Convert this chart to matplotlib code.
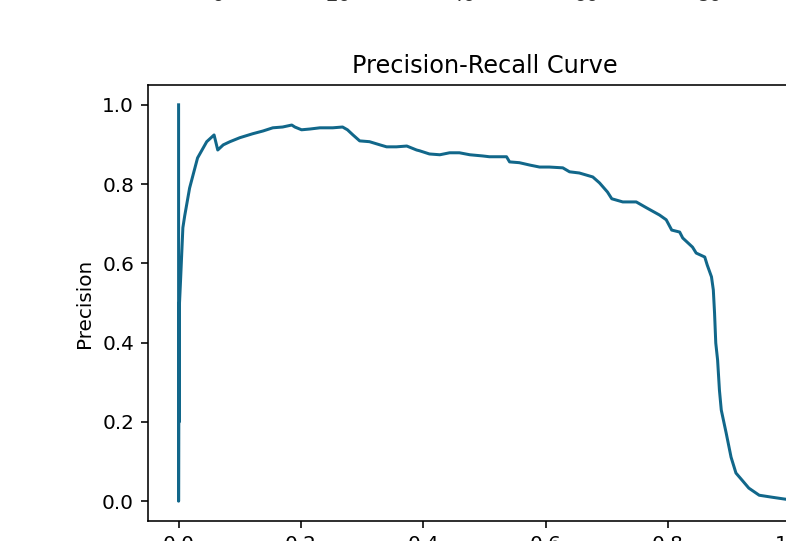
import matplotlib
matplotlib.use("Agg")
import matplotlib.pyplot as plt

# precision-recall points (recall, precision)
recall = [0.0, 0.0, 0.0005, 0.001, 0.0015, 0.003, 0.007, 0.010, 0.018, 0.031,
          0.046, 0.058, 0.064, 0.073, 0.084, 0.100, 0.121, 0.138, 0.154, 0.170,
          0.185, 0.190, 0.201, 0.215, 0.231, 0.252, 0.268, 0.276, 0.285, 0.296,
          0.312, 0.329, 0.340, 0.356, 0.373, 0.389, 0.394, 0.410, 0.427, 0.443,
          0.459, 0.476, 0.497, 0.508, 0.536, 0.541, 0.557, 0.574, 0.590, 0.606,
          0.628, 0.639, 0.655, 0.677, 0.688, 0.701, 0.708, 0.726, 0.748, 0.765,
          0.786, 0.797, 0.806, 0.819, 0.824, 0.840, 0.846, 0.860, 0.864, 0.871,
          0.874, 0.876, 0.878, 0.881, 0.884, 0.887, 0.895, 0.903, 0.911, 0.921,
          0.932, 0.949, 0.970, 0.992, 1.0]
precision = [1.0, 0.0, 0.50, 0.20, 0.50, 0.55, 0.69, 0.72, 0.79, 0.866,
             0.907, 0.924, 0.886, 0.899, 0.907, 0.917, 0.927, 0.934, 0.942, 0.944,
             0.949, 0.944, 0.937, 0.939, 0.942, 0.942, 0.944, 0.937, 0.924, 0.909,
             0.907, 0.899, 0.894, 0.894, 0.896, 0.886, 0.884, 0.876, 0.874, 0.879,
             0.879, 0.874, 0.871, 0.869, 0.869, 0.856, 0.854, 0.848, 0.843, 0.843,
             0.841, 0.831, 0.828, 0.818, 0.803, 0.780, 0.763, 0.755, 0.755, 0.740,
             0.722, 0.710, 0.684, 0.679, 0.664, 0.641, 0.626, 0.616, 0.596, 0.566,
             0.533, 0.475, 0.399, 0.356, 0.280, 0.230, 0.172, 0.111, 0.071, 0.053,
             0.033, 0.015, 0.010, 0.005, 0.003]

# tick labels of the plot above, mostly cut off by the screenshot
upper_ticks = ["0", "20", "40", "60", "80"]
upper_x = [218, 338, 463, 586, 709]

fig = plt.figure(figsize=(786 / 144, 541 / 144), dpi=144)
ax = fig.add_axes([148 / 786, 20 / 541, 673 / 786, 436 / 541])

ax.plot(recall, precision, color="#11678a", lw=1.5)
ax.set_title("Precision-Recall Curve")
ax.set_xlabel("Recall")
ax.set_ylabel("Precision")

for lab, px in zip(upper_ticks, upper_x):
    fig.text(px / 786, 1 - 1 / 541, lab, ha="center", va="baseline",
             fontsize=10, color="#333333")

fig.savefig("out.png", dpi=144)
